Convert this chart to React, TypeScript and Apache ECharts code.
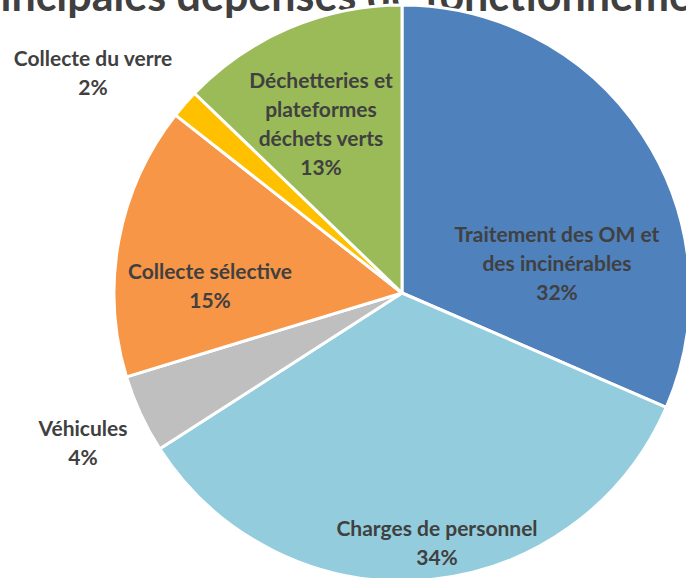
import React, { useEffect, useRef } from "react";
import * as echarts from "echarts";

const TITLE = "Principales dépenses de fonctionnement";
const categories = [
  "Traitement des OM et\ndes incinérables",
  "Charges de personnel",
  "Véhicules",
  "Collecte sélective",
  "Collecte du verre",
  "Déchetteries et\nplateformes\ndéchets verts",
];
const values = [31.5, 34.4, 4.4, 15.3, 1.6, 12.8];
const colors = ["#4F81BD", "#93CDDD", "#BFBFBF", "#F79646", "#FFC000", "#9BBB59"];
// label block centres (px) as placed in the original
const labelPos: [number, number][] = [
  [557, 262],
  [437, 542],
  [83, 442],
  [210, 285],
  [93, 72],
  [321, 123],
];

export default function App() {
  const ref = useRef<HTMLDivElement>(null);
  useEffect(() => {
    if (!ref.current) return;
    const chart = echarts.init(ref.current, undefined, { renderer: "svg" });
    chart.setOption({
      animation: false,
      backgroundColor: "#ffffff",
      graphic: [
        {
          type: "text",
          x: 345,
          y: -6,
          style: {
            text: TITLE,
            font: "bold 43px Lato",
            fill: "#404040",
            align: "center",
            verticalAlign: "middle",
          },
        },
      ],
      series: [
        {
          type: "pie",
          center: [402, 293],
          radius: 288,
          startAngle: 90,
          clockwise: true,
          percentPrecision: 0,
          itemStyle: { borderColor: "#ffffff", borderWidth: 3 },
          label: {
            show: true,
            position: "inside",
            formatter: "{b}\n{d}%",
            fontFamily: "Lato",
            fontWeight: "bold",
            fontSize: 21,
            lineHeight: 29,
            color: "#404040",
            align: "center",
          },
          labelLine: { show: false },
          labelLayout: (params: any) => {
            const p = labelPos[params.dataIndex];
            return { x: p[0], y: p[1], align: "center", verticalAlign: "middle" };
          },
          emphasis: { disabled: true },
          data: categories.map((c, i) => ({
            name: c,
            value: values[i],
            itemStyle: { color: colors[i] },
          })),
        },
      ],
    });
    return () => chart.dispose();
  }, []);
  return (
    <div
      ref={ref}
      style={{ position: "fixed", left: 0, top: 0, width: 686, height: 578 }}
    />
  );
}
